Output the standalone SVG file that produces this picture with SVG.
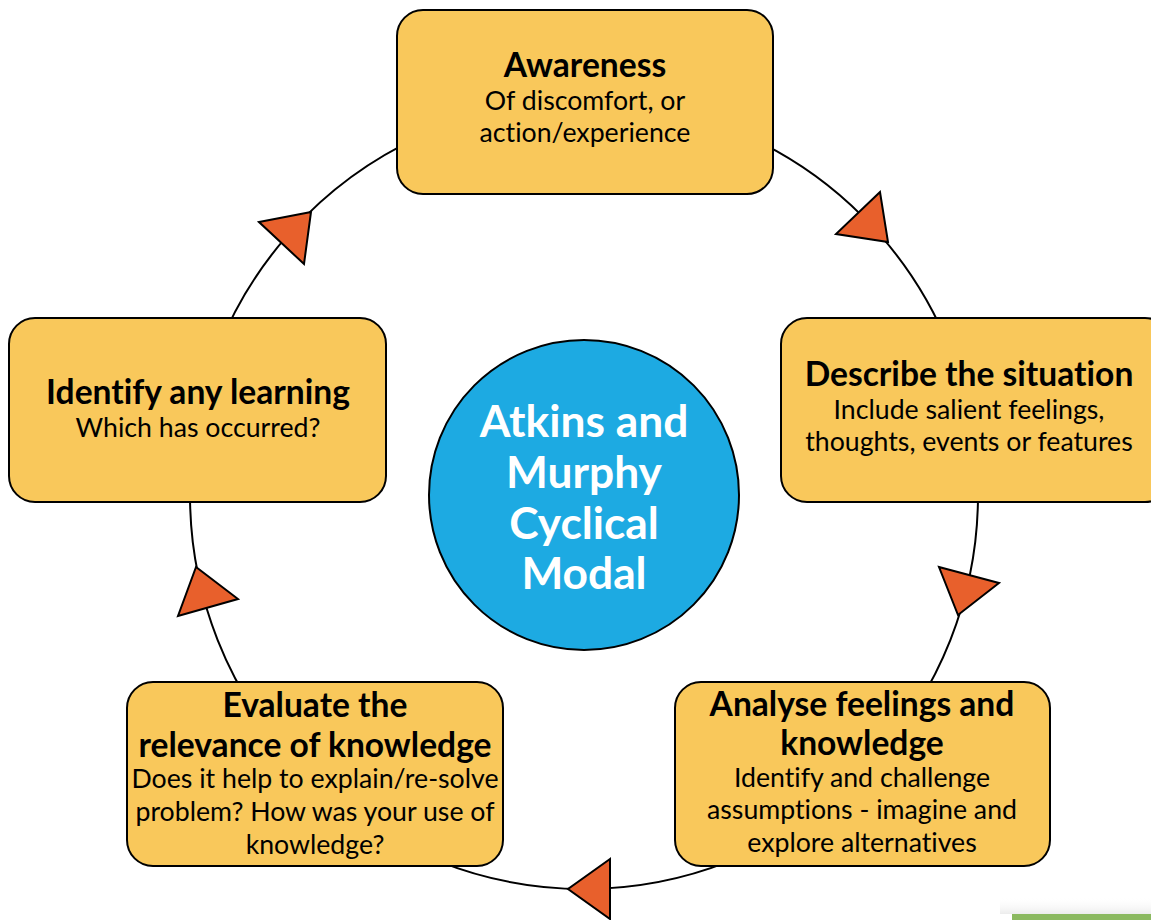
<svg xmlns="http://www.w3.org/2000/svg" width="1151" height="920" viewBox="0 0 1151 920">
  <defs>
    <linearGradient id="barShade" x1="0" y1="0" x2="0" y2="1">
      <stop offset="0" stop-color="#ffffff" stop-opacity="0"/>
      <stop offset="1" stop-color="#ececec"/>
    </linearGradient>
  </defs>
  <style>
    text { font-family: Lato, "Liberation Sans", sans-serif; text-anchor: middle; font-variant-ligatures: none; font-feature-settings: "liga" 0, "clig" 0, "dlig" 0, "calt" 0; }
    .step { fill: #F9C85B; stroke: #000; stroke-width: 2; }
    .head { font-weight: 700; font-size: 33.6px; fill: #000; }
    .sub { font-size: 26.7px; fill: #000; }
    .hub-text { font-weight: 700; font-size: 44.3px; fill: #fff; }
    .arrow { fill: #E8602C; stroke: #000; stroke-width: 2; stroke-linejoin: miter; }
  </style>
  <rect width="1151" height="920" fill="#fff"/>

  <!-- cycle ring and direction arrowheads -->
  <g id="connectors">
    <circle cx="584" cy="495" r="394" fill="none" stroke="#000" stroke-width="2"/>
    <polygon class="arrow" points="880,192 836,234 888,242"/>
    <polygon class="arrow" points="939,567 999,583 958,615"/>
    <polygon class="arrow" points="610,859 568,889 610,919"/>
    <polygon class="arrow" points="196,567 238,599 178,616"/>
    <polygon class="arrow" points="259,222 311,212 304,264"/>
  </g>

  <g id="hub">
    <circle cx="584" cy="495" r="155" fill="#1DAAE2" stroke="#000" stroke-width="2"/>
    <text class="hub-text" x="584" y="437">Atkins and</text>
    <text class="hub-text" x="584" y="488">Murphy</text>
    <text class="hub-text" x="584" y="539">Cyclical</text>
    <text class="hub-text" x="584" y="589">Modal</text>
  </g>

  <g id="awareness">
    <rect class="step" x="397" y="10" width="376" height="184" rx="26"/>
    <text class="head" x="585" y="77">Awareness</text>
    <text class="sub" x="585" y="110">Of discomfort, or</text>
    <text class="sub" x="585" y="142">action/experience</text>
  </g>

  <g id="describe">
    <rect class="step" x="781" y="318" width="390" height="184" rx="26"/>
    <text class="head" x="969" y="386">Describe the situation</text>
    <text class="sub" x="969" y="419">Include salient feelings,</text>
    <text class="sub" x="969" y="451">thoughts, events or features</text>
  </g>

  <g id="analyse">
    <rect class="step" x="675" y="682" width="375" height="184" rx="26"/>
    <text class="head" x="862" y="716">Analyse feelings and</text>
    <text class="head" x="862" y="755">knowledge</text>
    <text class="sub" x="862" y="787">Identify and challenge</text>
    <text class="sub" x="862" y="819">assumptions - imagine and</text>
    <text class="sub" x="862" y="852">explore alternatives</text>
  </g>

  <g id="evaluate">
    <rect class="step" x="127" y="682" width="376" height="184" rx="26"/>
    <text class="head" x="315" y="717">Evaluate the</text>
    <text class="head" x="315" y="757">relevance of knowledge</text>
    <text class="sub" x="315" y="788">Does it help to explain/re-solve</text>
    <text class="sub" x="315" y="821">problem? How was your use of</text>
    <text class="sub" x="315" y="854">knowledge?</text>
  </g>

  <g id="identify">
    <rect class="step" x="9" y="318" width="377" height="184" rx="26"/>
    <text class="head" x="198" y="404">Identify any learning</text>
    <text class="sub" x="198" y="437">Which has occurred?</text>
  </g>

  <!-- page footer strip -->
  <g id="footer">
    <rect x="1000" y="897" width="151" height="17" fill="url(#barShade)"/>
    <rect x="1012" y="914" width="139" height="6" fill="#8BB960"/>
  </g>
</svg>
